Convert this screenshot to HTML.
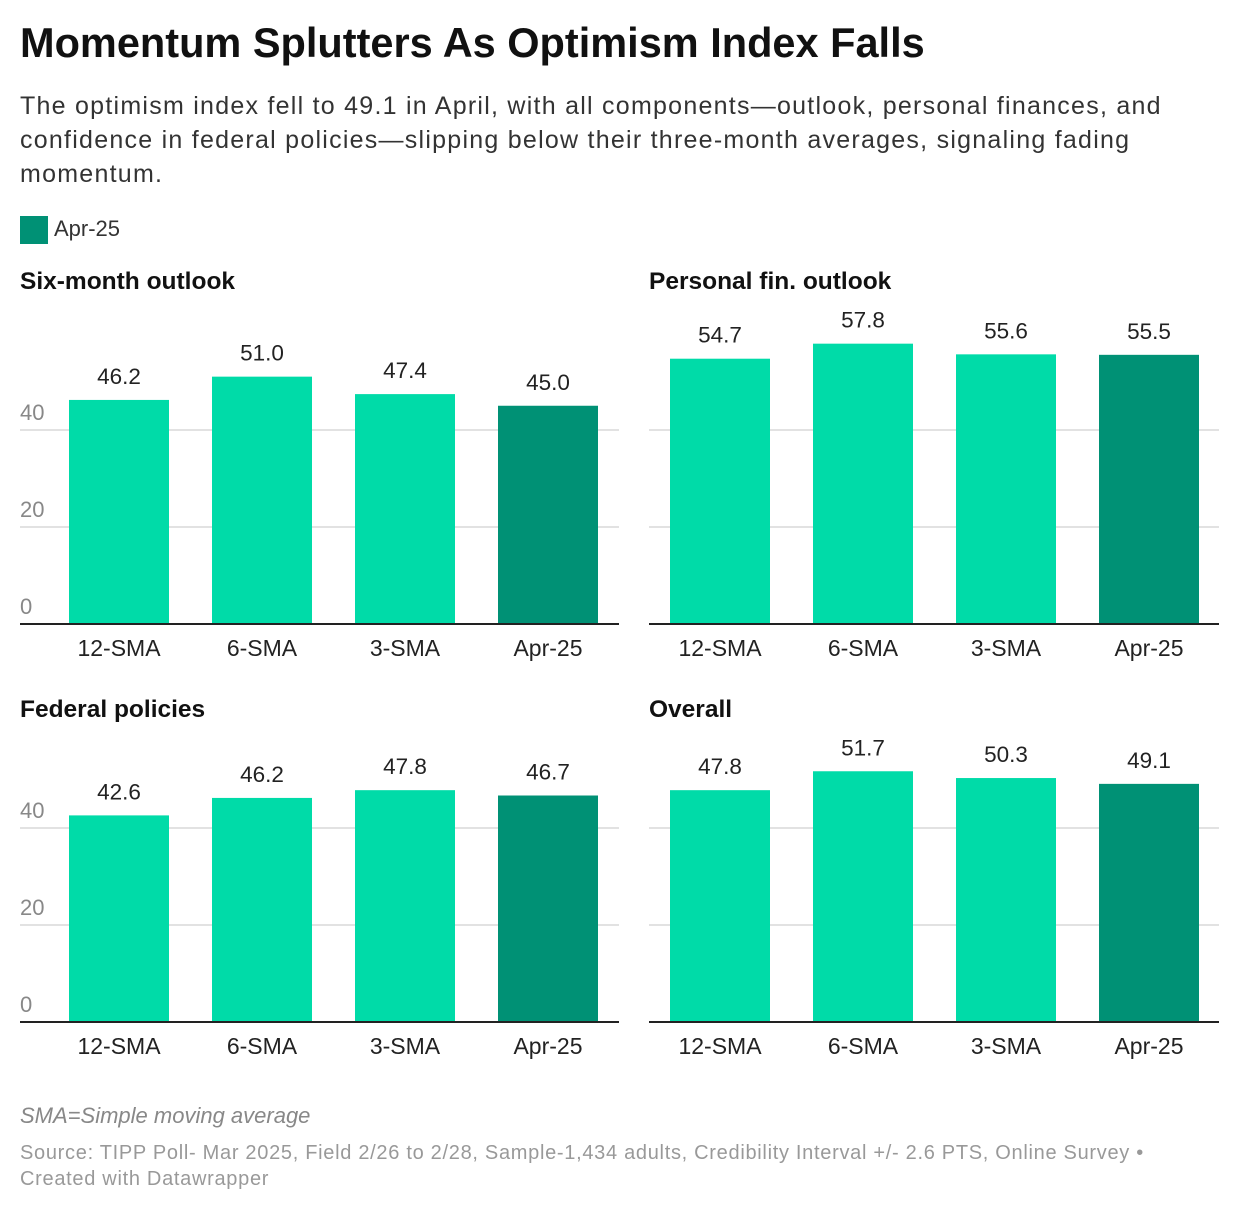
<!DOCTYPE html>
<html><head><meta charset="utf-8"><style>
body{margin:0;background:#fff;font-family:"Liberation Sans",sans-serif;color:#222;}
#wrap{position:relative;width:1240px;height:1214px;overflow:hidden;}
.t{position:absolute;white-space:nowrap;}
</style></head><body>
<div id="wrap">
<div class="t" style="left:20px;top:19px;font-size:41.5px;font-weight:bold;color:#111;">Momentum Splutters As Optimism Index Falls</div>
<div style="position:absolute;left:20px;top:89px;width:1185px;font-size:25px;letter-spacing:1.25px;line-height:34px;color:#333;">The optimism index fell to 49.1 in April, with all components—outlook, personal finances, and confidence in federal policies—slipping below their three-month averages, signaling fading momentum.</div>
<div style="position:absolute;left:20px;top:216px;width:28px;height:28px;background:#009175;"></div>
<div class="t" style="left:54px;top:216px;font-size:22px;color:#333;">Apr-25</div>
<svg id="svg" width="1240" height="1214" style="position:absolute;left:0;top:0"></svg>
<div class="t" style="left:20px;top:1103px;font-size:22px;font-style:italic;color:#888;">SMA=Simple moving average</div>
<div style="position:absolute;left:20px;top:1140px;width:1150px;font-size:20px;letter-spacing:0.7px;line-height:26px;color:#999;">Source: TIPP Poll- Mar 2025, Field 2/26 to 2/28, Sample-1,434 adults, Credibility Interval +/- 2.6 PTS, Online Survey • Created with Datawrapper</div>
</div>
<script>
const categories=["12-SMA","6-SMA","3-SMA","Apr-25"];
const panelTitles=["Six-month outlook","Personal fin. outlook","Federal policies","Overall"];
const sixMonth=[46.2,51.0,47.4,45.0];
const personalFin=[54.7,57.8,55.6,55.5];
const federal=[42.6,46.2,47.8,46.7];
const overall=[47.8,51.7,50.3,49.1];
const ticks=[0,20,40];
const series=[sixMonth,personalFin,federal,overall];
const NS="http://www.w3.org/2000/svg";
const svg=document.getElementById('svg');
function mk(tag,attrs){const e=document.createElementNS(NS,tag);for(const k in attrs)e.setAttribute(k,attrs[k]);svg.appendChild(e);return e;}
const panels=[{x0:20,x1:619,bar0:69,base:624,ty:289,showTicks:true},{x0:649,x1:1219,bar0:670,base:624,ty:289,showTicks:false},{x0:20,x1:619,bar0:69,base:1022,ty:717,showTicks:true},{x0:649,x1:1219,bar0:670,base:1022,ty:717,showTicks:false}];
const pxPer=4.85,bw=100,step=143;
panels.forEach((p,pi)=>{
  const y=v=>p.base-v*pxPer;
  const tt=mk('text',{x:p.x0,y:p.ty,'font-size':24.5,'font-weight':'bold',fill:'#111'});
  
  
  tt.textContent=panelTitles[pi];
  ticks.forEach(t=>{
    if(t>0){const g=mk('line',{x1:p.x0,x2:p.x1,y1:y(t),y2:y(t),stroke:'#e2e2e2','stroke-width':2});
    
    }
    if(p.showTicks){const l=mk('text',{x:p.x0,y:y(t)-10,'font-size':22,fill:'#888'});
    
    
    l.textContent=t;}
  });
  series[pi].forEach((v,i)=>{
    const x=p.bar0+i*step;
    const r=mk('rect',{x:x,y:y(v),width:bw,height:v*pxPer,fill:i===3?'#009175':'#00dba8'});
    
    
    const vl=mk('text',{x:x+bw/2,y:y(v)-16,'font-size':22.5,fill:'#222','text-anchor':'middle'});
    
    
    vl.textContent=v.toFixed(1);
    const cl=mk('text',{x:x+bw/2,y:p.base+32,'font-size':23,fill:'#222','text-anchor':'middle'});
    
    
    cl.textContent=categories[i];
  });
  const b=mk('line',{x1:p.x0,x2:p.x1,y1:p.base,y2:p.base,stroke:'#222','stroke-width':2});
  
  
});
</script>
</body></html>
